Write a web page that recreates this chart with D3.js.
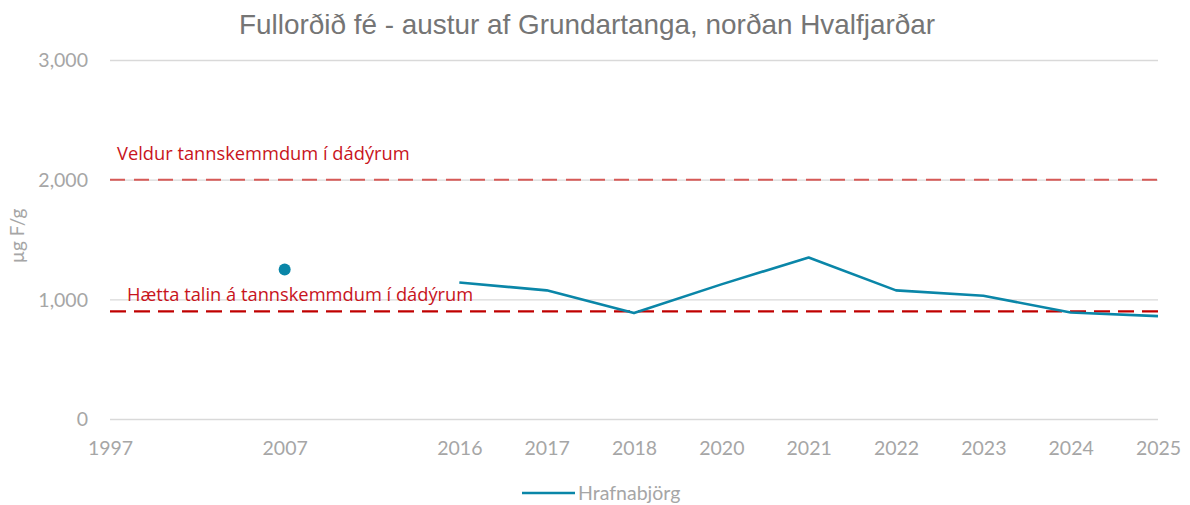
<!DOCTYPE html>
<html>
<head>
<meta charset="utf-8">
<script src="https://cdn.jsdelivr.net/npm/d3@7"></script>
<style>
  html, body { margin: 0; padding: 0; background: #fff; }
  svg { display: block; }
</style>
</head>
<body>
<svg id="chart" width="1190" height="505"></svg>
<script>
// Category slots along the x axis; empty labels keep the spacing between 1997, 2007 and 2016
const categories = ["1997", "", "2007", "", "2016", "2017", "2018", "2020", "2021", "2022", "2023", "2024", "2025"];
// Hrafnabjörg measurements (µg F/g); null where no sample
const hrafnabjorg = [null, null, 1250, null, 1140, 1075, 885, 1125, 1350, 1075, 1030, 890, 860];
const yTicks = [0, 1000, 2000, 3000];
// Reference levels
const thresholdValues = [2000, 900];
const thresholdLabels = ["Veldur tannskemmdum í dádýrum", "Hætta talin á tannskemmdum í dádýrum"];

const svg = d3.select("#chart");
const plotLeft = 110, plotRight = 1158, plotTop = 60, plotBottom = 419;

const x = d3.scalePoint().domain(d3.range(categories.length)).range([plotLeft, plotRight]);
const y = d3.scaleLinear().domain([0, 3000]).range([plotBottom, plotTop]);

const tickFont = "Lato, 'Open Sans', sans-serif";

// Title
svg.append("text")
  .attr("x", 587).attr("y", 34)
  .attr("text-anchor", "middle")
  .attr("font-family", "'Liberation Sans', Arial, sans-serif")
  .attr("font-size", 27.9)
  .attr("fill", "#757575")
  .text("Fullorðið fé - austur af Grundartanga, norðan Hvalfjarðar");

// Horizontal gridlines and y tick labels
const yAxis = d3.axisLeft(y).tickValues(yTicks).tickSize(-(plotRight - plotLeft)).tickFormat(d3.format(","));
const gy = svg.append("g").attr("transform", `translate(${plotLeft},0)`).call(yAxis);
gy.select(".domain").remove();
gy.selectAll(".tick line").attr("stroke", "#d9d9d9").attr("stroke-width", 1.3);
gy.selectAll(".tick text")
  .attr("x", -22).attr("dy", "0.35em")
  .attr("font-family", tickFont).attr("font-size", 19.5).attr("fill", "#a6a6a6");

// X axis labels
const xAxis = d3.axisBottom(x).tickSize(0).tickFormat(i => categories[i]);
const gx = svg.append("g").attr("transform", `translate(0,${plotBottom})`).call(xAxis);
gx.select(".domain").remove();
gx.selectAll(".tick text")
  .attr("y", 22).attr("dy", "0.71em")
  .attr("font-family", tickFont).attr("font-size", 19.5).attr("fill", "#a6a6a6");

// Y axis title
svg.append("text")
  .attr("transform", `translate(24,236) rotate(-90)`)
  .attr("text-anchor", "middle")
  .attr("font-family", tickFont).attr("font-size", 19).attr("fill", "#a6a6a6")
  .text("µg F/g");

// Threshold lines
const thrStyles = [
  { color: "#d65a57", width: 2, dash: "15,9", lx: 117, ly: -20 },
  { color: "#c00000", width: 2.2, dash: "16,8", lx: 127, ly: -10 }
];
thresholdValues.forEach((v, i) => {
  const s = thrStyles[i];
  svg.append("line")
    .attr("x1", plotLeft).attr("x2", plotRight)
    .attr("y1", y(v)).attr("y2", y(v))
    .attr("stroke", s.color).attr("stroke-width", s.width)
    .attr("stroke-dasharray", s.dash);
  svg.append("text")
    .attr("x", s.lx).attr("y", y(v) + s.ly)
    .attr("font-family", "'Open Sans', Lato, sans-serif").attr("font-size", 18.3).attr("fill", "#c8141c")
    .text(thresholdLabels[i]);
});

// Series line (breaks at missing values) and isolated points
const pts = hrafnabjorg.map((v, i) => ({ i, v }));
const line = d3.line().defined(d => d.v !== null).x(d => x(d.i)).y(d => y(d.v));
svg.append("path")
  .datum(pts)
  .attr("d", line)
  .attr("fill", "none")
  .attr("stroke", "#0a86a8")
  .attr("stroke-width", 2.6)
  .attr("stroke-linejoin", "round");

const isolated = pts.filter(d => d.v !== null &&
  (d.i === 0 || hrafnabjorg[d.i - 1] === null) &&
  (d.i === hrafnabjorg.length - 1 || hrafnabjorg[d.i + 1] === null));
svg.selectAll("circle.iso").data(isolated).join("circle")
  .attr("class", "iso")
  .attr("cx", d => x(d.i)).attr("cy", d => y(d.v))
  .attr("r", 6).attr("fill", "#0a86a8");

// Legend
svg.append("line")
  .attr("x1", 522).attr("x2", 575).attr("y1", 493).attr("y2", 493)
  .attr("stroke", "#0a86a8").attr("stroke-width", 2.6);
svg.append("text")
  .attr("x", 578).attr("y", 493).attr("dy", "0.35em")
  .attr("font-family", tickFont).attr("font-size", 19.5).attr("fill", "#a6a6a6")
  .text("Hrafnabjörg");
</script>
</body>
</html>
